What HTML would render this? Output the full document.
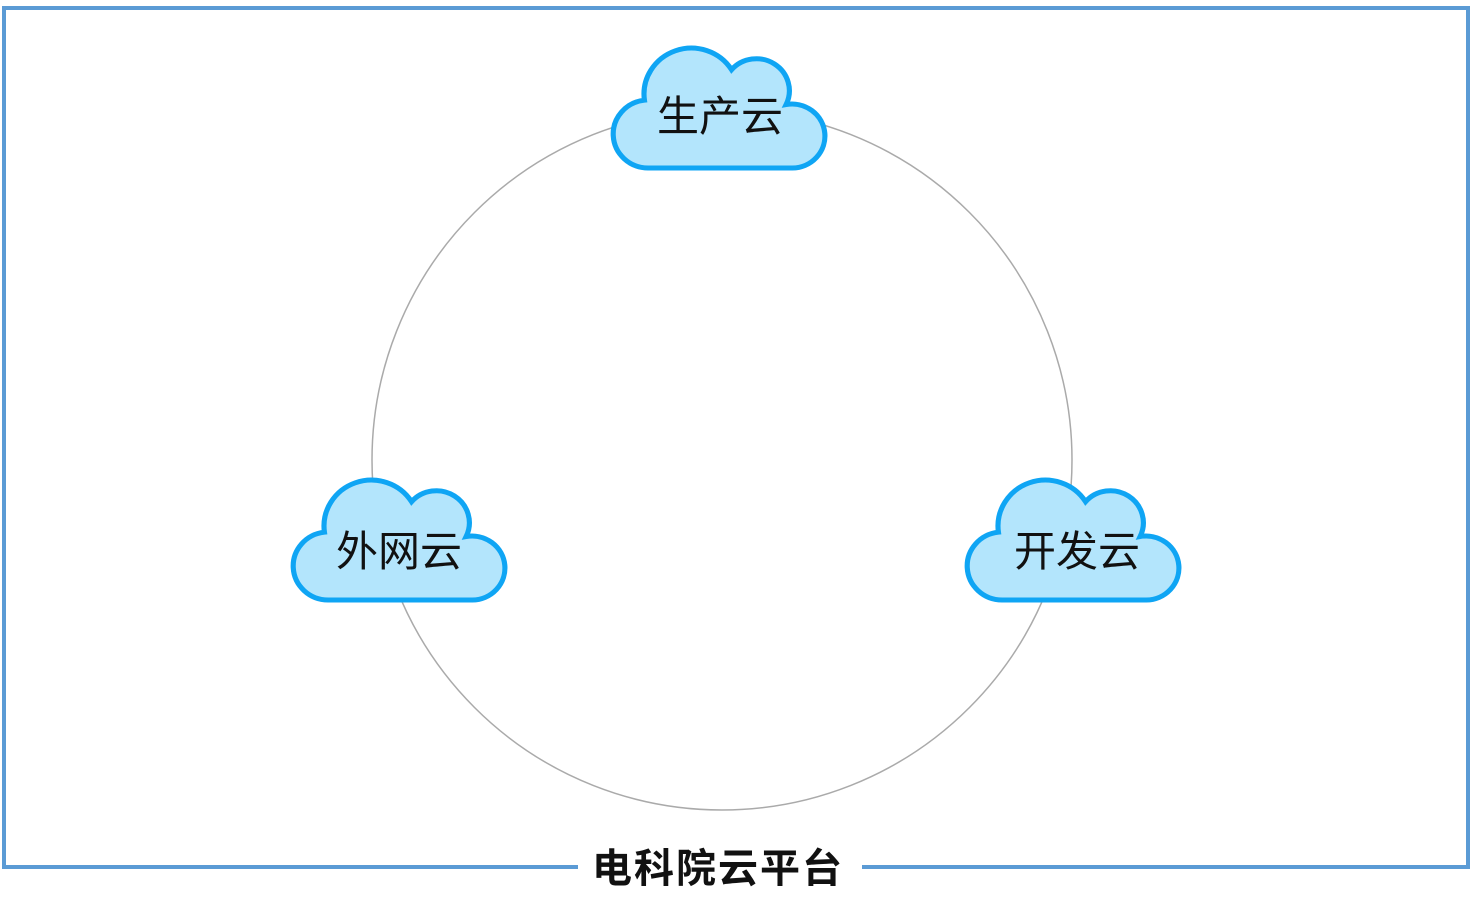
<!DOCTYPE html>
<html><head><meta charset="utf-8"><style>
html,body{margin:0;padding:0;background:#fff;width:1471px;height:913px;overflow:hidden}
svg{display:block}
</style></head><body>
<svg width="1471" height="913" viewBox="0 0 1471 913" xmlns="http://www.w3.org/2000/svg">
<defs>
<path id="cl" d="M 38 122 H 178 A 32 32 0 1 0 172 58.5 A 32 32 0 0 0 119 23.7 A 46 46 0 0 0 34.4 54.2 A 34 34 0 0 0 38 122 Z" fill="#b3e5fc" stroke="#0fa5f4" stroke-width="5"/>
</defs>
<rect x="4" y="8" width="1464" height="859" fill="none" stroke="#5b9bd5" stroke-width="4"/>
<rect x="578" y="860" width="284" height="14" fill="#fff"/>
<text x="718" y="882" font-family="Liberation Sans, Noto Sans CJK SC, sans-serif" font-size="40" font-weight="bold" text-anchor="middle" fill="#111" letter-spacing="2">电科院云平台</text>
<circle cx="722" cy="460" r="350" fill="none" stroke="#aaaaaa" stroke-width="1.5"/>
<g transform="translate(609,46) scale(1.03,1)"><use href="#cl"/></g>
<g transform="translate(289,478) scale(1.03,1)"><use href="#cl"/></g>
<g transform="translate(963,478) scale(1.03,1)"><use href="#cl"/></g>
<g font-family="Liberation Sans, Noto Sans CJK SC, sans-serif" font-size="42" font-weight="normal" text-anchor="middle" fill="#111">
<text x="720" y="131">生产云</text>
<text x="399" y="566">外网云</text>
<text x="1077" y="566">开发云</text>
</g>
</svg>
</body></html>
